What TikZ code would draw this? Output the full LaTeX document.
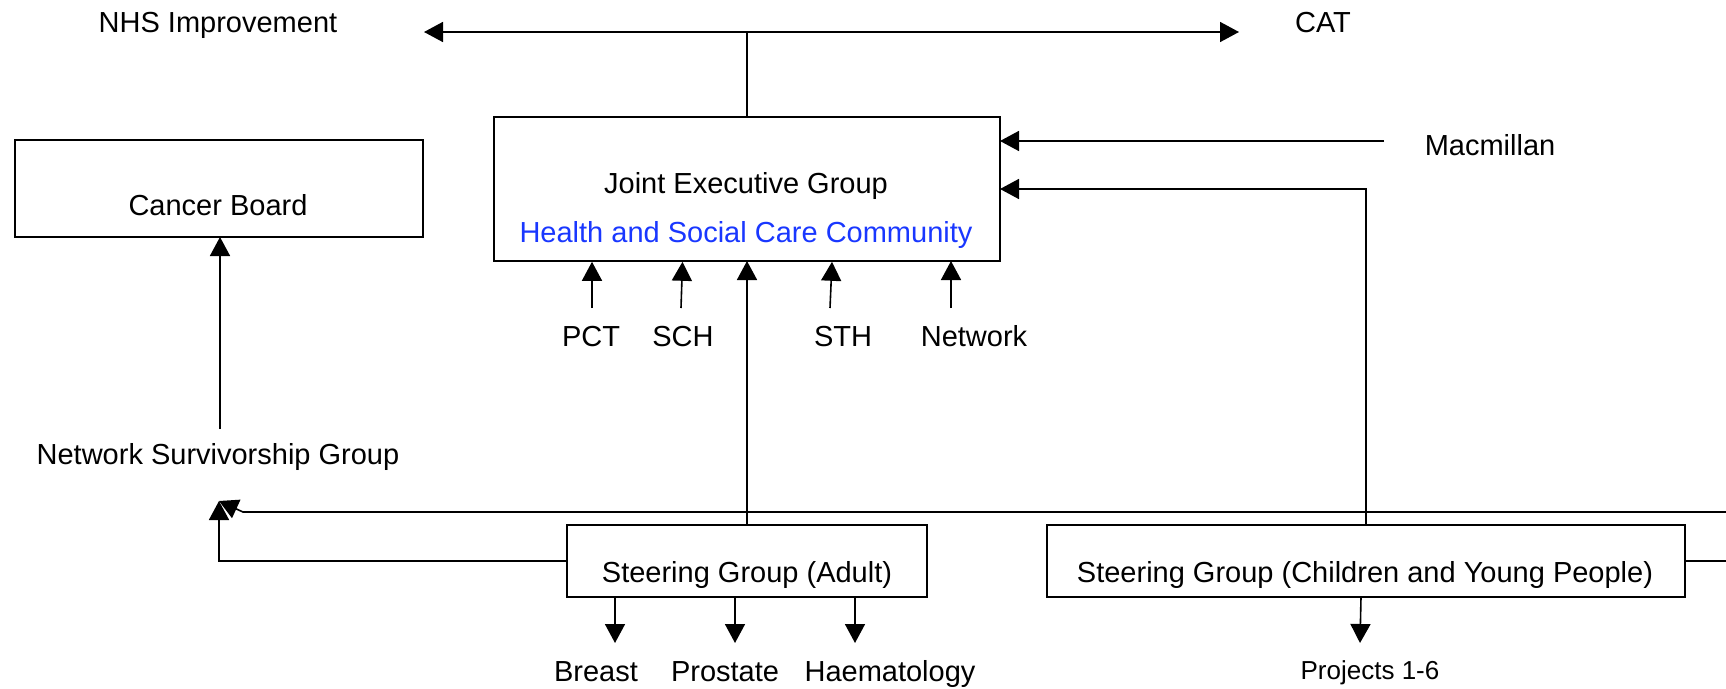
\documentclass[tikz,border=0pt]{standalone}
\usepackage{fontspec}
\setmainfont{Liberation Sans}
\usetikzlibrary{arrows.meta}
\definecolor{hblue}{RGB}{25,55,255}
\begin{document}
\begin{tikzpicture}[x=1pt,y=-1pt,
  lbl/.style={anchor=base,inner sep=0pt,font=\fontsize{29}{34}\selectfont},
  small/.style={anchor=base,inner sep=0pt,font=\fontsize{26}{31}\selectfont},
  box/.style={draw,line width=1.6pt,outer sep=0pt,inner sep=0pt},
  conn/.style={line width=1.6pt},
  arr/.style={line width=1.6pt,-{Triangle[length=19pt,width=20pt]}}]
\useasboundingbox (0,0) rectangle (1726,688);
% boxes
\node[box,minimum width=408pt,minimum height=97pt] (cb) at (219,188.5) {};
\node[box,minimum width=506pt,minimum height=144pt] (jeg) at (747,189) {};
\node[box,minimum width=360pt,minimum height=72pt] (sga) at (747,561) {};
\node[box,minimum width=638pt,minimum height=72pt] (sgc) at (1366,561) {};
% texts
\node[lbl] (nhs) at (218,32) {NHS Improvement};
\node[lbl] (cat) at (1323,32) {CAT};
\node[lbl] (mac) at (1490,155) {Macmillan};
\node[lbl] (cbt) at (218,215) {Cancer Board};
\node[lbl] (jegt) at (746,193) {Joint Executive Group};
\node[lbl,text=hblue] (hsc) at (746,242) {Health and Social Care Community};
\node[lbl] (pct) at (591,346) {PCT};
\node[lbl] (sch) at (683,346) {SCH};
\node[lbl] (sth) at (843,346) {STH};
\node[lbl] (net) at (974,346) {Network};
\node[lbl] (nsg) at (218,464) {Network Survivorship Group};
\node[lbl] (sgat) at (747,582) {Steering Group (Adult)};
\node[lbl] (sgct) at (1365,582) {Steering Group (Children and Young People)};
\node[lbl] (breast) at (596,681) {Breast};
\node[lbl] (prost) at (725,681) {Prostate};
\node[lbl] (haem) at (890,681) {Haematology};
\node[small] (proj) at (1370,679) {Projects 1-6};
% coordinates
\coordinate (tj) at (747,32);
\coordinate (nhsend) at (424,32);
\coordinate (catend) at (1239,32);
\coordinate (macend) at (1384,141);
\coordinate (pctt) at (592,308);
\coordinate (scht) at (681,308);
\coordinate (stht) at (830,308);
\coordinate (nett) at (951,308);
\coordinate (nsgt) at (220,429);
\coordinate (nsgin) at (219,501);
\coordinate (re) at (1726,512);
\coordinate (bend) at (243,512);
\coordinate (re2) at (1726,561);
\coordinate (brh) at (615,643);
\coordinate (prh) at (735,643);
\coordinate (hah) at (855,643);
\coordinate (prjh) at (1360,643);
% connectors
\draw[conn] (jeg.north) -- (tj);
\draw[arr] (tj) -- (nhsend);
\draw[arr] (tj) -- (catend);
\draw[arr] (macend) -- (macend -| jeg.east);
\draw[arr] (sgc.north) |- (jeg.east);
\draw[arr] (pctt) -- (592,261.8);
\draw[arr] (scht) -- (682.5,261.8);
\draw[arr] (stht) -- (832,261.8);
\draw[arr] (nett) -- (nett |- jeg.south);
\draw[arr] (sga.north) -- (sga.north |- jeg.south);
\draw[arr] (nsgt) -- (nsgt |- cb.south);
\draw[arr] (sga.west) -| (nsgin);
\draw[arr] (re) -- (bend) -- (nsgin);
\draw[conn] (sgc.east) -- (re2);
\draw[arr] (brh |- sga.south) -- (brh);
\draw[arr] (prh |- sga.south) -- (prh);
\draw[arr] (hah |- sga.south) -- (hah);
\draw[arr] (1361,597) -- (prjh);
\end{tikzpicture}
\end{document}
